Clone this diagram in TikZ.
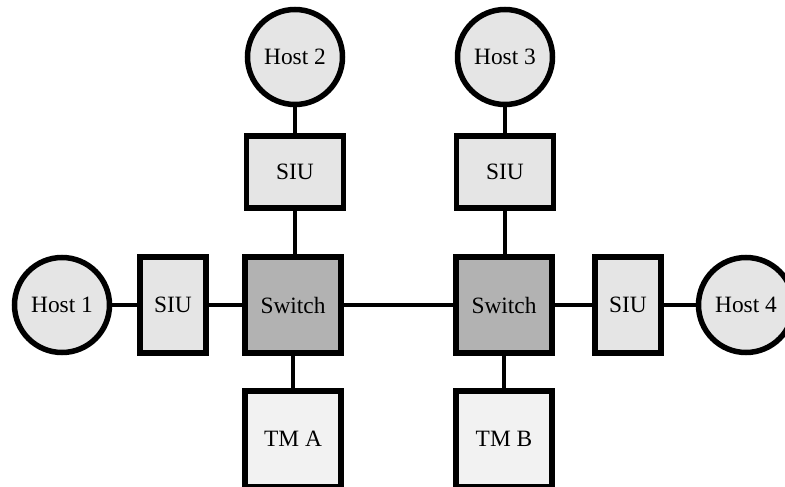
\documentclass[tikz,border=0pt]{standalone}
\usepackage{fontspec}
\setmainfont{Liberation Serif}

\tikzset{
  host/.style={circle,draw,line width=5.5pt,fill=gray!20,minimum size=95pt,inner sep=0pt},
  siu/.style={rectangle,draw,line width=5.5pt,fill=gray!20,minimum width=66pt,minimum height=96pt},
  siuv/.style={siu,minimum width=97pt,minimum height=72pt},
  switch/.style={rectangle,draw,line width=5.5pt,fill=gray!60,minimum size=96pt},
  tm/.style={rectangle,draw,line width=5.5pt,fill=gray!10,minimum size=96pt},
  link/.style={draw=black,line width=4.2pt}
}
\tikzstyle{every node}=[font=\fontsize{23.4}{28}\selectfont]

\begin{document}
\begin{tikzpicture}[x=1pt,y=-1pt]
    \useasboundingbox (0,0) rectangle (785,487);
    % middle row
    \node[host]   (h1)   at (62,305)  {Host 1};
    \node[siu]    (siu1) at (173,305) {SIU};
    \node[switch] (swa)  at (293,305) {Switch};
    \node[switch] (swb)  at (504,305) {Switch};
    \node[siu]    (siu4) at (628,305) {SIU};
    \node[host]   (h4)   at (746,305) {Host 4};
    % upper hosts
    \node[host]   (h2)   at (295,57)  {Host 2};
    \node[siuv]   (siu2) at (295,172) {SIU};
    \node[host]   (h3)   at (505,57)  {Host 3};
    \node[siuv]   (siu3) at (505,172) {SIU};
    % test modules
    \node[tm]     (tma)  at (293,439) {TM A};
    \node[tm]     (tmb)  at (504,439) {TM B};

    \draw [link] (h1) -- (siu1);
    \draw [link] (siu1) -- (swa);
    \draw [link] (swa) -- (swb);
    \draw [link] (swb) -- (siu4);
    \draw [link] (siu4) -- (h4);
    \draw [link] (h2) -- (siu2);
    \draw [link] (siu2.south) -- (siu2.south |- swa.north);
    \draw [link] (h3) -- (siu3);
    \draw [link] (siu3.south) -- (siu3.south |- swb.north);
    \draw [link] (swa) -- (tma);
    \draw [link] (swb) -- (tmb);
\end{tikzpicture}
\end{document}
